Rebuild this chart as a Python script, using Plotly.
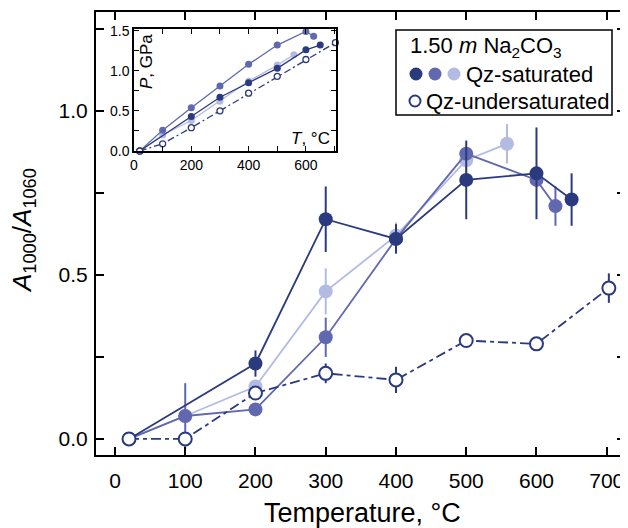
import plotly.graph_objects as go

# ---------------- data ----------------
T_dark = [20, 200, 300, 400, 500, 600, 650]
A_dark = [0.0, 0.23, 0.67, 0.61, 0.79, 0.81, 0.73]
E_dark = [0, 0.04, 0.10, 0.045, 0.12, 0.14, 0.08]

T_med = [20, 100, 200, 300, 400, 500, 600, 627]
A_med = [0.0, 0.07, 0.09, 0.31, 0.61, 0.87, 0.79, 0.71]
E_med = [0, 0.10, 0.0, 0.06, 0.04, 0.0, 0.0, 0.06]

T_light = [20, 100, 200, 300, 400, 500, 558]
A_light = [0.0, 0.07, 0.16, 0.45, 0.62, 0.85, 0.90]
E_light = [0, 0, 0.02, 0.07, 0.04, 0.04, 0.06]

T_open = [20, 100, 200, 300, 400, 500, 600, 703]
A_open = [0.0, 0.0, 0.14, 0.20, 0.18, 0.30, 0.29, 0.46]
E_open = [0, 0, 0.02, 0.03, 0.04, 0.0, 0.0, 0.045]

# inset: pressure vs temperature
P_dark = [0.0, 0.43, 0.67, 0.85, 1.03, 1.26, 1.32]
P_med = [0.0, 0.26, 0.54, 0.81, 1.08, 1.32, 1.49, 1.43]
P_light = [0.0, 0.20, 0.38, 0.62, 0.87, 1.07, 1.20]
P_open = [0.0, 0.09, 0.29, 0.50, 0.72, 0.93, 1.14, 1.35]

x_ticks = [0, 100, 200, 300, 400, 500, 600, 700]
y_ticks = [0, 0.25, 0.5, 0.75, 1.0, 1.25]
y_ticklabels = ["0.0", "", "0.5", "", "1.0", ""]
ix_ticks = [0, 100, 200, 300, 400, 500, 600, 700]
ix_ticklabels = ["0", "", "200", "", "400", "", "600", ""]
iy_ticks = [0, 0.25, 0.5, 0.75, 1.0, 1.25, 1.5]
iy_ticklabels = ["0.0", "", "0.5", "", "1.0", "", "1.5"]

DARK = "#2b3a7e"
MED = "#6068b0"
LIGHT = "#b3bbe3"
FONT = "Liberation Sans, Arial, sans-serif"

fig = go.Figure()

def main_trace(x, y, e, color, open_=False):
    fig.add_trace(go.Scatter(
        x=x, y=y, mode="lines+markers",
        line=dict(color=color, width=1.8, dash="10px,4px,4px,4px" if open_ else "solid"),
        marker=dict(size=14 if not open_ else 13,
                    color="white" if open_ else color,
                    line=dict(color=color, width=2 if open_ else 0)),
        error_y=dict(type="data", array=e, visible=True, thickness=2, width=0, color=color),
        showlegend=False, xaxis="x", yaxis="y"))

main_trace(T_light, A_light, E_light, LIGHT)
main_trace(T_med, A_med, E_med, MED)
main_trace(T_dark, A_dark, E_dark, DARK)
main_trace(T_open, A_open, E_open, DARK, open_=True)

def inset_trace(x, y, color, open_=False):
    fig.add_trace(go.Scatter(
        x=x, y=y, mode="lines+markers", cliponaxis=False,
        line=dict(color=color, width=1.3, dash="7px,3px,2px,3px" if open_ else "solid"),
        marker=dict(size=6 if open_ else 7,
                    color="white" if open_ else color,
                    line=dict(color=color, width=1.3 if open_ else 0)),
        showlegend=False, xaxis="x2", yaxis="y2"))

inset_trace(T_light, P_light, LIGHT)
inset_trace(T_med, P_med, MED)
inset_trace(T_dark, P_dark, DARK)
inset_trace(T_open, P_open, DARK, open_=True)

axis_common = dict(showline=True, linecolor="black", mirror="allticks", automargin=False,
                   ticks="inside", tickcolor="black", showgrid=False, zeroline=False)

# page body has an 8px margin: figure spans screen px 8..628, 8..528
# plot area on screen: x 96..625, y 12..455 px
inx0, inx1 = (134 - 96) / 529, (336 - 96) / 529
iny0, iny1 = 1 - (151 - 12) / 443, 1 - (29 - 12) / 443

fig.update_layout(
    width=620, height=520,
    margin=dict(l=88, r=3, t=4, b=73, autoexpand=False),
    paper_bgcolor="white", plot_bgcolor="white",
    font=dict(family=FONT, color="black"),
    xaxis=dict(range=[-27, 726], tickvals=x_ticks, ticklen=8, tickwidth=1.5, linewidth=2,
               tickfont=dict(size=21), ticklabelstandoff=6, **axis_common),
    yaxis=dict(range=[-0.049, 1.302], tickvals=y_ticks, ticktext=y_ticklabels, ticklen=8,
               tickwidth=1.5, linewidth=2, tickfont=dict(size=21), ticklabelstandoff=2,
               **axis_common),
    xaxis2=dict(domain=[inx0, inx1], anchor="y2", range=[0, 705], tickvals=ix_ticks,
                ticktext=ix_ticklabels, ticklen=5, tickwidth=1.2, linewidth=1.5,
                tickfont=dict(size=14), ticklabelstandoff=0, **axis_common),
    yaxis2=dict(domain=[iny0, iny1], anchor="x2", range=[0, 1.52], tickvals=iy_ticks,
                ticktext=iy_ticklabels, ticklen=5, tickwidth=1.2, linewidth=1.5,
                tickfont=dict(size=14), ticklabelstandoff=0, **axis_common),
)

def px_x(p):
    return (p - 96) / 529

def px_y(p):
    return 1 - (p - 12) / 443

annotations = [
    dict(text="Temperature, °C", x=px_x(362), y=px_y(513), xref="paper", yref="paper",
         showarrow=False, font=dict(size=27), xanchor="center", yanchor="middle",
         borderpad=0),
    dict(text="<i>A</i><sub>1000</sub>/<i>A</i><sub>1060</sub>", x=px_x(23), y=px_y(231),
         xref="paper", yref="paper", textangle=-90, showarrow=False, font=dict(size=26),
         xanchor="center", yanchor="middle", borderpad=0),
    dict(text="<i>P</i>, GPa", x=px_x(147), y=px_y(62), xref="paper", yref="paper",
         textangle=-90, showarrow=False, font=dict(size=17), xanchor="center", yanchor="middle"),
    dict(text="<i>T</i>, °C", x=px_x(332), y=px_y(138), xref="paper", yref="paper",
         showarrow=False, font=dict(size=17), xanchor="right", yanchor="middle"),
    dict(text="1.50 <i>m</i> Na<sub>2</sub>CO<sub>3</sub>", x=px_x(408), y=px_y(47),
         xref="paper", yref="paper", showarrow=False, font=dict(size=22),
         xanchor="left", yanchor="middle"),
    dict(text="Qz-saturated", x=px_x(464), y=px_y(74), xref="paper", yref="paper",
         showarrow=False, font=dict(size=22), xanchor="left", yanchor="middle"),
    dict(text="Qz-undersaturated", x=px_x(424), y=px_y(101), xref="paper", yref="paper",
         showarrow=False, font=dict(size=22), xanchor="left", yanchor="middle"),
]
fig.update_layout(annotations=annotations)

shapes = [dict(type="rect", xref="paper", yref="paper", x0=px_x(396), x1=px_x(612),
               y0=px_y(115), y1=px_y(30), line=dict(color="black", width=1.5),
               fillcolor="rgba(0,0,0,0)")]
for cx, col in [(416, DARK), (435, MED), (454, LIGHT)]:
    shapes.append(dict(type="circle", xref="paper", yref="paper", xsizemode="pixel",
                       ysizemode="pixel", xanchor=px_x(cx), yanchor=px_y(74),
                       x0=-6.5, x1=6.5, y0=-6.5, y1=6.5, fillcolor=col,
                       line=dict(width=0)))
shapes.append(dict(type="circle", xref="paper", yref="paper", xsizemode="pixel",
                   ysizemode="pixel", xanchor=px_x(415), yanchor=px_y(101),
                   x0=-5.5, x1=5.5, y0=-5.5, y1=5.5, fillcolor="white",
                   line=dict(color=DARK, width=2)))
fig.update_layout(shapes=shapes)

fig.write_html("out.html")
